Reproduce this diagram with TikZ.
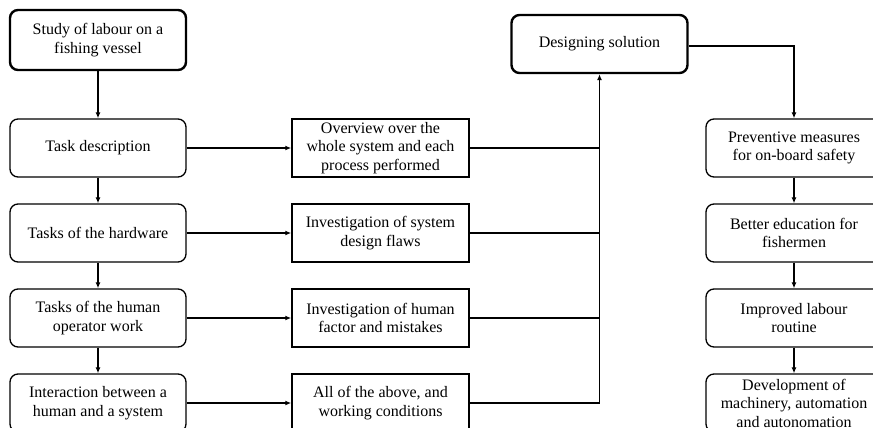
\documentclass[tikz,border=0pt]{standalone}
\usepackage{fontspec}
\setmainfont{Liberation Serif}
\usetikzlibrary{arrows.meta}
\begin{document}
\begin{tikzpicture}[x=1pt,y=-1pt,
  every node/.style={font=\fontsize{16}{18.5}\selectfont, align=center, inner sep=0pt},
  stepround/.style={draw, rounded corners=8pt, line width=1.3pt, minimum width=176pt, minimum height=58pt},
  stepbold/.style={stepround, line width=2.4pt},
  steprect/.style={draw, line width=1.5pt, minimum width=177pt, minimum height=58pt},
  link/.style={line width=1.3pt},
  arrowlink/.style={link, -{Latex[length=6pt,width=5pt]}}]
\clip (0,0) rectangle (873,428);
\fill[white] (0,0) rectangle (873,428);

% process column
\node[stepbold]  (study) at (98,40) [minimum height=60pt] {Study of labour on a\\fishing vessel};
\node[stepround] (task)  at (98,148) {Task description};
\node[stepround] (hw)    at (98,233) {Tasks of the hardware};
\node[stepround] (human) at (98,318) {Tasks of the human\\operator work};
\node[stepround] (inter) at (98,403) {Interaction between a\\human and a system};

% analysis column
\node[steprect] (ov)   at (380.5,148) {Overview over the\\whole system and each\\process performed};
\node[steprect] (flaw) at (380.5,233) {Investigation of system\\design flaws};
\node[steprect] (hf)   at (380.5,318) {Investigation of human\\factor and mistakes};
\node[steprect] (all)  at (380.5,403) {All of the above, and\\working conditions};

% solution
\node[stepbold] (ds) at (599.5,44) {Designing solution};

% outcome column
\node[stepround] (prev) at (794,148) {Preventive measures\\for on-board safety};
\node[stepround] (edu)  at (794,233) {Better education for\\fishermen};
\node[stepround] (imp)  at (794,318) {Improved labour\\routine};
\node[stepround] (dev)  at (794,403) {Development of\\machinery, automation\\and autonomation};

% vertical flow, left
\draw[arrowlink] (study) -- (task);
\draw[arrowlink] (task) -- (hw);
\draw[arrowlink] (hw) -- (human);
\draw[arrowlink] (human) -- (inter);

% to analysis
\draw[arrowlink] (task) -- (ov);
\draw[arrowlink] (hw) -- (flaw);
\draw[arrowlink] (human) -- (hf);
\draw[arrowlink] (inter) -- (all);

% collecting line
\draw[link] (ov.east) -- (ov.east -| ds.south);
\draw[link] (flaw.east) -- (flaw.east -| ds.south);
\draw[link] (hf.east) -- (hf.east -| ds.south);
\draw[arrowlink] (all.east) -| (ds.south);

% outcomes
\draw[arrowlink] ([yshift=-2pt]ds.east) -| (prev.north);
\draw[arrowlink] (prev) -- (edu);
\draw[arrowlink] (edu) -- (imp);
\draw[arrowlink] (imp) -- (dev);
\end{tikzpicture}
\end{document}
